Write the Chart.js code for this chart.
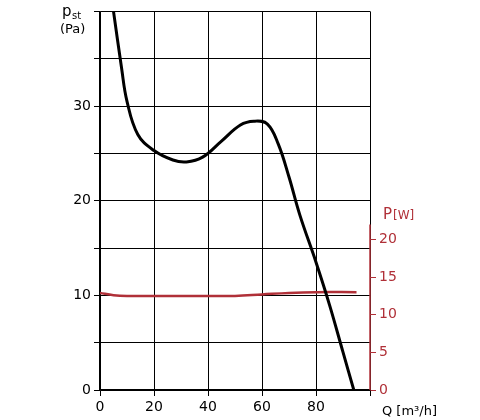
<!DOCTYPE html>
<html><head><meta charset="utf-8">
<script src="https://cdn.jsdelivr.net/npm/chart.js@4/dist/chart.umd.min.js"></script>
<style>body{margin:0;background:#fff}#wrap{width:480px;height:420px}</style>
</head><body><div id="wrap"><canvas id="c"></canvas></div>
<script>
const pressureCurve = [[5,40],[8,34],[10,30.5],[14,27],[20,25.3],[27,24.3],[32,24.1],[38,24.6],[45,26.3],[52,28],[57,28.4],[62,28.1],[66,26],[70,22.5],[74,18.5],[80,13.5],[85,9],[90,4],[94,0]];
const powerCurve = [[0,12.9],[5,12.6],[10,12.5],[30,12.5],[50,12.5],[60,12.7],[70,12.9],[80,13],[95,13]];
const xTicks = [0,20,40,60,80];
const leftTicks = [0,10,20,30];
const rightTicks = [0,5,10,15,20];

const labels = {
  id: "labels",
  afterDraw(c) {
    const g = c.ctx, a = c.chartArea, y2 = c.scales.y2;
    g.save();
    g.strokeStyle = "#b03038";
    g.lineWidth = 1.5;
    g.beginPath();
    g.moveTo(a.right, y2.getPixelForValue(0));
    g.lineTo(a.right, y2.getPixelForValue(22));
    g.stroke();
    g.font = "15px 'DejaVu Sans'";
    g.fillStyle = "#000";
    g.fillText("p", 62, 16);
    g.font = "10px 'DejaVu Sans'";
    g.fillText("st", 72, 19);
    g.font = "13px 'DejaVu Sans'";
    g.fillText("(Pa)", 60, 33);
    g.fillText("Q [m³/h]", 382, 415);
    g.fillStyle = "#b03038";
    g.font = "15px 'DejaVu Sans'";
    g.fillText("P", 383, 219);
    g.font = "12px 'DejaVu Sans'";
    g.fillText("[W]", 393, 219);
    g.restore();
  }
};

new Chart(document.getElementById("c"), {
  type: "scatter",
  data: { datasets: [
    { data: pressureCurve.map(p => ({x:p[0], y:p[1]})), showLine: true, borderColor: "#000", borderWidth: 3, pointRadius: 0, tension: 0.4, yAxisID: "y" },
    { data: powerCurve.map(p => ({x:p[0], y:p[1]})), showLine: true, borderColor: "#b03038", borderWidth: 2.5, pointRadius: 0, tension: 0.4, yAxisID: "y2" }
  ]},
  options: {
    responsive: true, maintainAspectRatio: false, animation: false,
    layout: { padding: { top: 5, left: 0, right: 0, bottom: 0 } },
    plugins: { legend: { display: false }, tooltip: { enabled: false } },
    scales: {
      x: { min: 0, max: 100, afterFit: s => { s.height = 30; },
        afterBuildTicks: s => { s.ticks = [0,20,40,60,80,100].map(v => ({value:v})); },
        ticks: { color: "#000", font: { size: 14, family: "DejaVu Sans" }, callback: v => xTicks.includes(v) ? v : "" },
        grid: { color: "#000", lineWidth: 1, tickLength: 6 }, border: { color: "#000", width: 1.5 } },
      y: { min: 0, max: 40, position: "left", afterFit: s => { s.width = 100; },
        afterBuildTicks: s => { s.ticks = [0,5,10,15,20,25,30,35,40].map(v => ({value:v})); },
        ticks: { color: "#000", font: { size: 14, family: "DejaVu Sans" }, callback: v => leftTicks.includes(v) ? v : "" },
        grid: { color: "#000", lineWidth: 1, tickLength: 6 }, border: { color: "#000", width: 1.5 } },
      y2: { min: 0, max: 50.3, position: "right", afterFit: s => { s.width = 110; },
        afterBuildTicks: s => { s.ticks = rightTicks.map(v => ({value:v})); },
        ticks: { color: "#b03038", font: { size: 14, family: "DejaVu Sans" } },
        grid: { drawOnChartArea: false, color: "#b03038", tickLength: 6 }, border: { display: false } }
    }
  },
  plugins: [labels]
});
</script></body></html>
